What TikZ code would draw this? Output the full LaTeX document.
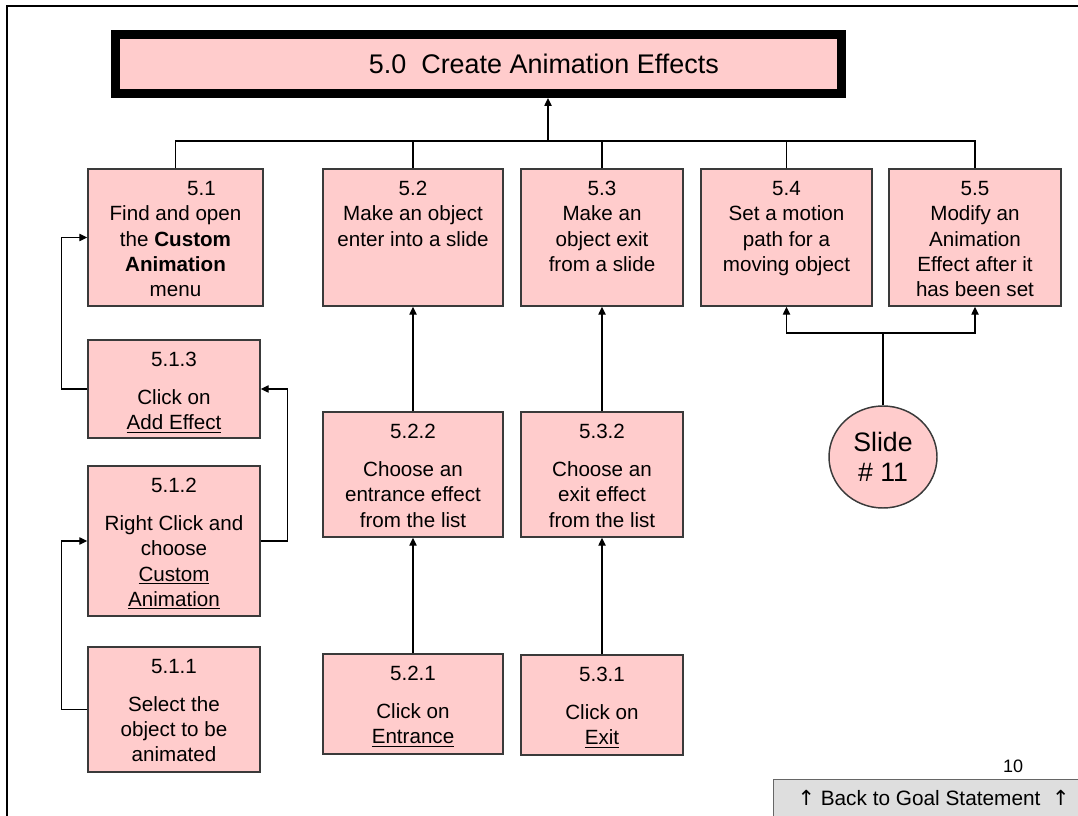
\documentclass[tikz,border=0pt]{standalone}
\usepackage{fontspec}
\setmainfont{Liberation Sans}
\newfontfamily\symfont{DejaVu Sans}
\usetikzlibrary{arrows.meta,shapes.geometric}

\definecolor{boxpink}{HTML}{FFCCCC}
\definecolor{boxline}{HTML}{3A3A3A}
\definecolor{btnfill}{HTML}{DEDEDE}
\definecolor{btnline}{HTML}{666666}

% a task box given by its corners (in pixel units)
\newcommand\taskbox[5]{%
  \node[taskframe, minimum width={(#4-#2)*0.75pt}, minimum height={(#5-#3)*0.75pt}]
    (#1) at ({(#2+#4)/2},{(#3+#5)/2}) {};}
% the text of a task box, hung from the top edge
\newcommand\tasktext[2]{%
  \node[tasklabel] (#1t) at ([yshift=-9.5pt]#1.north) {#2};}

\begin{document}
\begin{tikzpicture}[x=0.75pt,y=-0.75pt,
  taskframe/.style={draw=boxline, fill=boxpink, line width=1.1pt, rectangle, inner sep=0pt},
  tasklabel/.style={anchor=north, align=center, inner sep=0pt,
    font=\fontsize{15.45}{19}\selectfont},
  link/.style={draw=black, line width=1pt},
  arr/.style={link, -{Triangle[length=6pt,width=5.5pt]}},
]
\useasboundingbox (0,0) rectangle (1078,816);

% slide frame
\draw[line width=2pt] (7,816) -- (7,6) -- (1078,6);

% goal box
\node[draw=black, fill=boxpink, line width=6.75pt, rectangle, inner sep=0pt,
      minimum width={726*0.75pt}, minimum height={59*0.75pt},
      font=\fontsize{20.2}{24}\selectfont]
  (title) at (478.5,64) {\hspace*{98pt}5.0~~Create Animation Effects};

% sub-goal boxes
\taskbox{b51}{88}{169}{263}{306}
\taskbox{b52}{323}{169}{503}{306}
\taskbox{b53}{521}{169}{683}{306}
\taskbox{b54}{701}{169}{872}{306}
\taskbox{b55}{889}{169}{1061}{306}
\taskbox{b513}{88}{340}{260}{438}
\taskbox{b512}{88}{466}{260}{616}
\taskbox{b511}{88}{647}{260}{772}
\taskbox{b522}{323}{412}{503}{537}
\taskbox{b521}{323}{654}{503}{754}
\taskbox{b532}{521}{412}{683}{537}
\taskbox{b531}{521}{655}{683}{755}

\tasktext{b51}{\hspace*{39pt}5.1\\Find and open\\the \textbf{Custom}\\\textbf{Animation}\\menu}
\tasktext{b52}{5.2\\Make an object\\enter into a slide}
\tasktext{b53}{5.3\\Make an\\object exit\\from a slide}
\tasktext{b54}{5.4\\Set a motion\\path for a\\moving object}
\tasktext{b55}{5.5\\Modify an\\Animation\\Effect after it\\has been set}
\tasktext{b513}{5.1.3\\[9.4pt]Click on\\\underline{Add Effect}}
\tasktext{b512}{5.1.2\\[9.4pt]Right Click and\\choose\\\underline{Custom}\\\underline{Animation}}
\tasktext{b511}{5.1.1\\[9.4pt]Select the\\object to be\\animated}
\tasktext{b522}{5.2.2\\[9.4pt]Choose an\\entrance effect\\from the list}
\tasktext{b521}{5.2.1\\[9.4pt]Click on\\\underline{Entrance}}
\tasktext{b532}{5.3.2\\[9.4pt]Choose an\\exit effect\\from the list}
\tasktext{b531}{5.3.1\\[9.4pt]Click on\\\underline{Exit}}

% slide reference
\node[ellipse, draw=boxline, fill=boxpink, line width=1.1pt, inner sep=0pt,
      minimum width={108*0.75pt}, minimum height={102*0.75pt}, align=center,
      font=\fontsize{20}{23}\selectfont]
  (slide) at (883,457) {Slide\\\# 11};

% bus to the goal
\coordinate (bus) at (548,141);
\draw[link] (b51.north) |- (bus) -| (b55.north);
\draw[link] (b52.north) -- (b52.north |- bus);
\draw[link] (b53.north) -- (b53.north |- bus);
\draw[link] (b54.north) -- (b54.north |- bus);
\draw[arr] (bus) -- (bus |- title.south);

% steps of 5.1
\draw[arr] (b513.west) -- ++(-26,0) |- (b51.west);
\draw[arr] (b512.east) -- ++(27,0) |- (b513.east);
\draw[arr] (b511.west) -- ++(-26,0) |- (b512.west);

% steps of 5.2 and 5.3
\draw[arr] (b522.north) -- (b52.south);
\draw[arr] (b521.north) -- (b522.south);
\draw[arr] (b532.north) -- (b53.south);
\draw[arr] (b531.north) -- (b532.south);

% slide reference to 5.4 and 5.5
\coordinate (fork) at (883,333);
\draw[link] (slide.north) -- (fork);
\draw[arr] (fork) -| (b54.south);
\draw[arr] (fork) -| (b55.south);

% page number and back button
\node[font=\fontsize{13.5}{15}\selectfont, inner sep=0pt] (pageno) at (1013,766) {10};
\node[draw=btnline, fill=btnfill, line width=0.8pt, rectangle, inner sep=0pt,
      minimum width={320*0.75pt}, minimum height={50*0.75pt}, anchor=north west]
  (backbtn) at (773,779) {};
\node[font=\fontsize{15.6}{18}\selectfont, inner sep=0pt] (backtxt) at (933.5,798)
  {{\symfont ↑} Back to Goal Statement~~{\symfont ↑}};
\end{tikzpicture}
\end{document}
